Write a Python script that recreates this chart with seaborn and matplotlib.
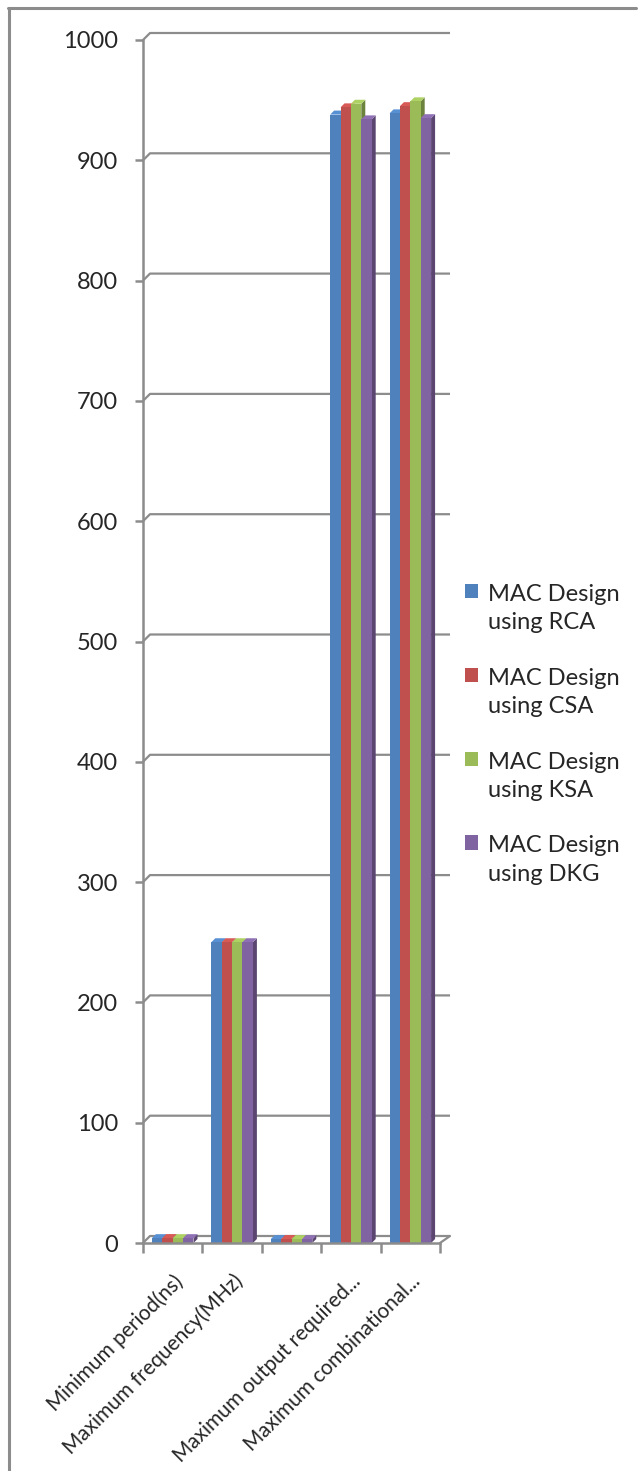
import numpy as np
import pandas as pd
import seaborn as sns
import matplotlib.pyplot as plt
import matplotlib.colors as mcolors
from matplotlib.patches import Polygon
from matplotlib.lines import Line2D

# ---------------------------------------------------------------
# DATA
# ---------------------------------------------------------------
categories = ["Minimum period(ns)", "Maximum frequency(MHz)",
              "Minimum input arrival time before clock(ns)",
              "Maximum output required time after clock(ns)",
              "Maximum combinational path delay(ns)"]
tick_labels = ["Minimum period(ns)", "Maximum frequency(MHz)", "",
               "Maximum output required...", "Maximum combinational..."]
designs = ["MAC Design\nusing RCA", "MAC Design\nusing CSA",
           "MAC Design\nusing KSA", "MAC Design\nusing DKG"]

rca = [4.0, 250.0, 3.2, 938.0, 939.0]
csa = [4.1, 250.0, 3.3, 944.0, 945.0]
ksa = [4.0, 250.0, 3.2, 947.0, 949.0]
dkg = [4.0, 250.0, 3.1, 934.0, 935.0]

colors = ["#4F81BD", "#C0504D", "#9BBB59", "#8064A2"]
y_ticks = list(range(0, 1001, 100))

df = pd.DataFrame({
    "category": categories * 4,
    "design": [d for d in designs for _ in categories],
    "value": rca + csa + ksa + dkg,
})

# ---------------------------------------------------------------
# PLOT
# ---------------------------------------------------------------
sns.set_style("white")
plt.rcParams["font.family"] = ["Lato", "DejaVu Sans"]

fig = plt.figure(figsize=(6.38, 14.71), dpi=100)
W, H = 638, 1471
ax = fig.add_axes([143 / W, 1 - 1243 / H, (440 - 143) / W, (1243 - 40) / H])

sns.barplot(data=df, x="category", y="value", hue="design", order=categories,
            hue_order=designs, palette=colors, saturation=1, width=0.7,
            ax=ax, legend=False)

ax.set_xlim(-0.5, 4.5)
ax.set_ylim(0, 1000)

grey = "#8C8C8C"
px_x = (440 - 143) / 5.0      # pixels per category
px_y = (1243 - 40) / 1000.0   # pixels per value unit

# 3D faces on every bar
bdx, bdy = 4 / px_x, 4 / px_y
for p in ax.patches:
    x, w, h = p.get_x(), p.get_width(), p.get_height()
    if h <= 0:
        continue
    c = np.array(mcolors.to_rgb(p.get_facecolor()))
    p.set_zorder(2)
    p.set_edgecolor("none")
    top = Polygon([(x, h), (x + w, h), (x + w + bdx, h + bdy), (x + bdx, h + bdy)],
                  closed=True, facecolor=np.clip(c * 1.12, 0, 1), edgecolor="none",
                  zorder=1.5, clip_on=False)
    side = Polygon([(x + w, 0), (x + w + bdx, bdy), (x + w + bdx, h + bdy), (x + w, h)],
                   closed=True, facecolor=c * 0.7, edgecolor="none",
                   zorder=1.5, clip_on=False)
    ax.add_patch(side)
    ax.add_patch(top)

# back wall gridlines (3D offset)
wdx, wdy = 7 / px_x, 7 / px_y
for v in y_ticks:
    ax.plot([-0.5, -0.5 + wdx, 4.5 + wdx + 3 / px_x], [v, v + wdy, v + wdy],
            color=grey, lw=1.6, zorder=0.5, clip_on=False, solid_capstyle="butt")
ax.plot([4.5, 4.5 + wdx + 3 / px_x], [0, wdy], color=grey, lw=1.6,
        zorder=0.5, clip_on=False)

ax.grid(False)
for s in ["top", "right"]:
    ax.spines[s].set_visible(False)
for s in ["left", "bottom"]:
    ax.spines[s].set_color(grey)
    ax.spines[s].set_linewidth(1.8)

ax.set_yticks(y_ticks)
ax.set_yticklabels([str(v) for v in y_ticks])
ax.tick_params(axis="y", direction="out", length=6, width=1.8, color=grey,
               labelsize=17, pad=12, left=True)

ax.set_xticks(range(len(categories)))
ax.set_xticklabels(tick_labels, rotation=45, ha="right", va="top",
                   rotation_mode="anchor", fontsize=15)
ax.set_xticks(np.arange(-0.5, 5.0, 1.0), minor=True)
ax.tick_params(axis="x", which="major", length=0, pad=20)
ax.tick_params(axis="x", which="minor", direction="out", length=7, width=1.8,
               color=grey, bottom=True)
ax.set_xlabel("")
ax.set_ylabel("")

# legend
handles = [plt.Rectangle((0, 0), 1, 1, facecolor=c, edgecolor="none") for c in colors]
leg = fig.legend(handles, designs, loc="upper left",
                 bbox_to_anchor=(453 / W, 1 - 572 / H), frameon=False,
                 fontsize=17, handlelength=0.55, handleheight=0.55,
                 handletextpad=0.45, labelspacing=1.45, borderpad=0)
for t in leg.texts:
    t.set_linespacing(1.45)
for col in leg._legend_handle_box.get_children():
    for item in col.get_children():
        item.align = "top"

# outer chart frame (top and left edges visible)
fig.add_artist(Line2D([8 / W, 636 / W], [1 - 8 / H, 1 - 8 / H], color=grey, lw=2.2))
fig.add_artist(Line2D([9 / W, 9 / W], [1 - 8 / H, 0], color=grey, lw=2.2))

fig.savefig("out.png", dpi=100)
